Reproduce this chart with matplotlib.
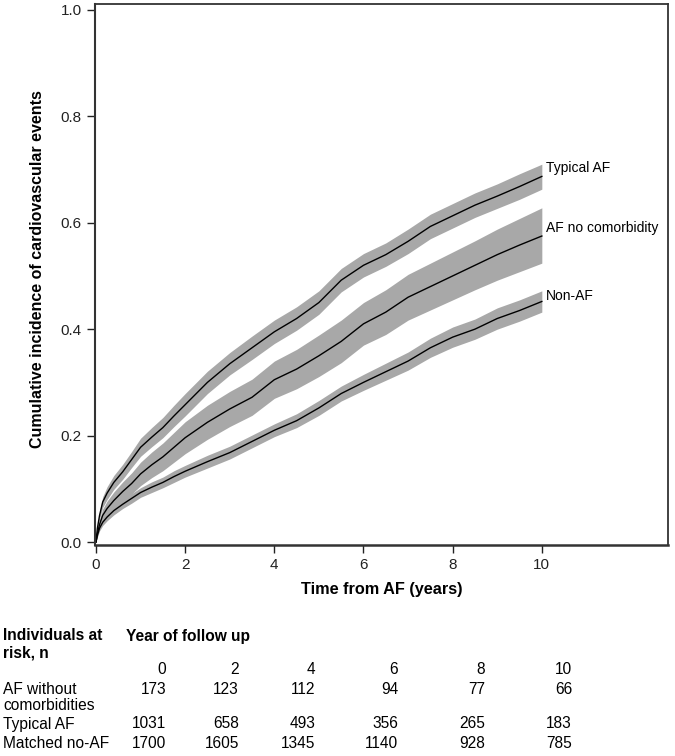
import matplotlib
matplotlib.use("Agg")
import matplotlib.pyplot as plt

plt.rcParams['font.family'] = ['Liberation Sans', 'DejaVu Sans']

# ---- data ----
years = [0, 0.03, 0.08, 0.15, 0.25, 0.4, 0.6, 0.8, 1.0, 1.25, 1.5, 1.75, 2,
         2.5, 3, 3.5, 4, 4.5, 5, 5.5, 6, 6.5, 7, 7.5, 8, 8.5, 9, 9.5, 10]

typical_af = [0, .025, .05, .075, .092, .112, .132, .155, .178, .197, .215, .237, .258,
              .30, .335, .365, .395, .42, .45, .492, .52, .54, .565, .593, .613,
              .633, .65, .668, .687]
typical_af_lo = [0, .021, .043, .065, .080, .099, .118, .140, .161, .179, .196, .217, .237,
                 .279, .314, .343, .373, .398, .428, .470, .498, .518, .542, .570, .590,
                 .610, .627, .644, .663]
typical_af_hi = [0, .029, .057, .085, .104, .125, .146, .170, .195, .215, .234, .257, .279,
                 .321, .356, .387, .417, .442, .472, .514, .542, .562, .588, .616, .636,
                 .656, .673, .692, .710]

af_no_comorb = [0, .015, .033, .05, .063, .078, .095, .11, .128, .145, .16, .178, .196,
                .225, .25, .272, .305, .325, .35, .377, .41, .432, .46, .48, .50,
                .52, .54, .558, .575]
af_no_comorb_lo = [0, .010, .025, .038, .049, .062, .077, .090, .106, .121, .134, .150, .166,
                   .193, .217, .238, .270, .288, .311, .337, .370, .390, .417, .436, .455,
                   .474, .492, .508, .524]
af_no_comorb_hi = [0, .020, .041, .062, .077, .094, .113, .130, .150, .169, .186, .206, .226,
                   .257, .283, .306, .340, .362, .389, .417, .450, .474, .503, .524, .545,
                   .566, .588, .608, .628]

non_af = [0, .012, .026, .037, .047, .059, .071, .082, .093, .103, .112, .123, .133,
          .151, .168, .189, .21, .228, .252, .279, .30, .32, .34, .365, .385,
          .40, .42, .435, .452]
non_af_lo = [0, .009, .021, .031, .040, .051, .063, .073, .084, .093, .102, .112, .122,
             .139, .156, .177, .198, .215, .238, .265, .285, .304, .323, .347, .366,
             .381, .400, .415, .432]
non_af_hi = [0, .015, .031, .043, .054, .067, .079, .091, .102, .113, .122, .134, .144,
             .163, .180, .201, .222, .241, .266, .293, .315, .336, .357, .383, .404,
             .419, .440, .455, .472]

curve_labels = ["Typical AF", "AF no comorbidity", "Non-AF"]

table_years = [0, 2, 4, 6, 8, 10]
table_rows = ["AF without\ncomorbidities", "Typical AF", "Matched no-AF"]
risk_af_no_comorb = [173, 123, 112, 94, 77, 66]
risk_typical_af = [1031, 658, 493, 356, 265, 183]
risk_matched = [1700, 1605, 1345, 1140, 928, 785]

# ---- figure ----
W, H = 675, 756
fig = plt.figure(figsize=(W / 100, H / 100), dpi=100)
ax = fig.add_axes([95 / W, 1 - 545 / H, (668 - 95) / W, (545 - 4) / H])

band_color = "#a8a8a8"
series = [(typical_af, typical_af_lo, typical_af_hi),
          (af_no_comorb, af_no_comorb_lo, af_no_comorb_hi),
          (non_af, non_af_lo, non_af_hi)]
for mid, lo, hi in series:
    ax.fill_between(years, lo, hi, color=band_color, linewidth=0)
for mid, lo, hi in series:
    ax.plot(years, mid, color="black", linewidth=1.0)

label_y = [0.703, 0.59, 0.462]
for lab, yy in zip(curve_labels, label_y):
    ax.text(10.1, yy, lab, fontsize=10, va="center", ha="left")

ax.set_xlim(-0.022, 12.83)
ax.set_ylim(-0.0056, 1.011)
ax.set_xticks([0, 2, 4, 6, 8, 10])
ax.set_yticks([0.0, 0.2, 0.4, 0.6, 0.8, 1.0])
ax.set_yticklabels(["0.0", "0.2", "0.4", "0.6", "0.8", "1.0"])
ax.tick_params(direction="out", length=6, width=1, labelsize=11, colors="#222222")
for s in ax.spines.values():
    s.set_color("#333333")
    s.set_linewidth(1.3)
ax.spines["bottom"].set_linewidth(1.8)
ax.spines["left"].set_linewidth(1.5)

ax.set_ylabel("Cumulative incidence of cardiovascular events", fontsize=11.5,
              fontweight="bold")
ax.yaxis.set_label_coords(-0.088, 0.51)
ax.set_xlabel("Time from AF (years)", fontsize=11.7, fontweight="bold", labelpad=7)

# ---- at-risk table ----
def ftext(x, y, s, **kw):
    fig.text(x / W, 1 - y / H, s, va="center", fontsize=11.2, **kw)

ftext(3, 636, "Individuals at", fontweight="bold")
ftext(3, 653, "risk, n", fontweight="bold")
ftext(126, 636, "Year of follow up", fontweight="bold")

col_right = [166, 239, 315, 398, 485, 572]
for xr, yv in zip(col_right, table_years):
    ftext(xr, 670, str(yv), ha="right")

ftext(3, 690, "AF without")
ftext(3, 706, "comorbidities")
ftext(3, 724, table_rows[1])
ftext(3, 743, table_rows[2])
for xr, v in zip(col_right, risk_af_no_comorb):
    ftext(xr, 690, str(v), ha="right")
for xr, v in zip(col_right, risk_typical_af):
    ftext(xr, 724, str(v), ha="right")
for xr, v in zip(col_right, risk_matched):
    ftext(xr, 743, str(v), ha="right")

fig.savefig("out.png", dpi=100)
